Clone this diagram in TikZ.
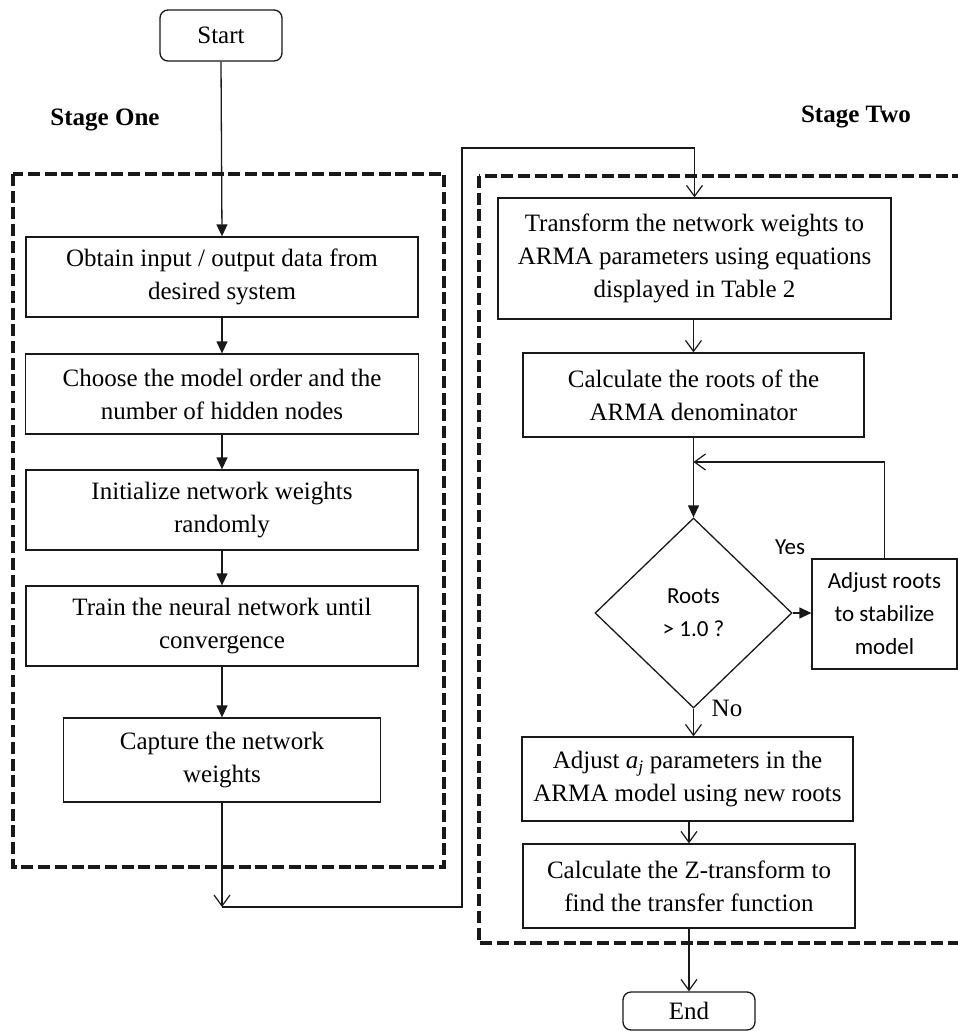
\documentclass[tikz,border=0pt]{standalone}
\usepackage{fontspec}
\setmainfont{Liberation Serif}
\newfontfamily\calibri{Carlito}
\usetikzlibrary{arrows.meta,shapes.geometric}
\begin{document}
\begin{tikzpicture}[x=1pt,y=-1pt,
  proc/.style={draw=black!90, line width=1.3pt, inner sep=0pt, align=center,
    font=\fontsize{25}{33}\selectfont},
  term/.style={proc, rounded corners=8pt},
  farr/.style={-{Triangle[length=12pt,width=11pt]}, line width=1.3pt, draw=black!90},
  oarr/.style={-{Straight Barb[length=11pt,width=16pt,line width=1.2pt]}, line width=1.3pt, draw=black!90},
  stagebox/.style={draw=black!90, line width=3.8pt, dash pattern=on 12pt off 4.7pt},
  stagelabel/.style={font=\fontsize{25}{30}\selectfont\bfseries},
  sanslabel/.style={font=\calibri\fontsize{23}{33}\selectfont, align=center}
]
\useasboundingbox (0,0) rectangle (958,1031);
\clip (0,0) rectangle (958,1031);

% stage frames
\draw[stagebox] (13,174) rectangle (444,867);
\draw[stagebox] (479,176) rectangle (990,943);

% stage labels
\node[stagelabel] (s1) at (105,120) {Stage One};
\node[stagelabel] (s2) at (856,117) {Stage Two};

% terminals
\node[term, minimum width=122pt, minimum height=51pt] (start) at (221,35.5) {Start};
\node[term, minimum width=132pt, minimum height=38pt] (end) at (689,1011) {End};

% stage one
\node[proc, minimum width=392pt, minimum height=80pt] (obtain) at (222,277)
  {Obtain input / output data from\\desired system};
\node[proc, minimum width=393pt, minimum height=80pt] (choose) at (222,394)
  {Choose the model order and the\\number of hidden nodes};
\node[proc, minimum width=392pt, minimum height=80pt] (init) at (222,510)
  {Initialize network weights\\randomly};
\node[proc, minimum width=392pt, minimum height=80pt] (train) at (222,626)
  {Train the neural network until\\convergence};
\node[proc, minimum width=317pt, minimum height=84pt] (capture) at (222,760)
  {Capture the network\\weights};

% stage two
\node[proc, minimum width=393pt, minimum height=121pt] (transform) at (694.5,258.5)
  {Transform the network weights to\\ARMA parameters using equations\\displayed in Table 2};
\node[proc, minimum width=341pt, minimum height=84pt] (roots) at (693.5,395)
  {Calculate the roots of the\\ARMA denominator};
\node[draw=black!90, line width=1.3pt, diamond, inner sep=0pt, minimum width=197pt,
  minimum height=190pt, align=center, font=\calibri\fontsize{23}{33}\selectfont]
  (dec) at (693.5,613) {Roots\\> 1.0 ?};
\node[proc, minimum width=145pt, minimum height=110pt,
  font=\calibri\fontsize{23}{33}\selectfont] (adjroots) at (884.5,614)
  {Adjust roots\\to stabilize\\model};
\node[proc, minimum width=331pt, minimum height=84pt] (adjaj) at (687.5,779)
  {Adjust {\itshape a\textsubscript{j}} parameters in the\\ARMA model using new roots};
\node[proc, minimum width=332pt, minimum height=84pt] (ztrans) at (689,886)
  {Calculate the Z-transform to\\find the transfer function};

\node[sanslabel] (yes) at (790,547) {Yes};
\node[font=\fontsize{25}{30}\selectfont] (no) at (727,708) {No};

% helper coordinates
\coordinate (c1) at (222,907);
\coordinate (c2) at (462,148);
\coordinate (fb) at (693.5,462);

% connectors stage one
\draw[farr] (start.south) -- (obtain.north);
\draw[farr] (obtain) -- (choose);
\draw[farr] (choose) -- (init);
\draw[farr] (init) -- (train);
\draw[farr] (train) -- (capture);
\draw[oarr] (capture.south) -- (c1);
\draw[oarr] (c1) -| (c2) -| (transform.north);

% connectors stage two
\draw[oarr] (transform.south -| roots.north) -- (roots.north);
\draw[farr] (roots.south) -- (dec.north);
\draw[farr] (dec.east) -- (adjroots.west |- dec.east);
\draw[oarr] (adjroots.north) |- (fb);
\draw[oarr] (dec.south) -- (dec.south |- adjaj.north);
\draw[oarr] (adjaj.south -| ztrans.north) -- (ztrans.north);
\draw[oarr] (ztrans.south) -- (ztrans.south |- end.north);
\end{tikzpicture}
\end{document}
